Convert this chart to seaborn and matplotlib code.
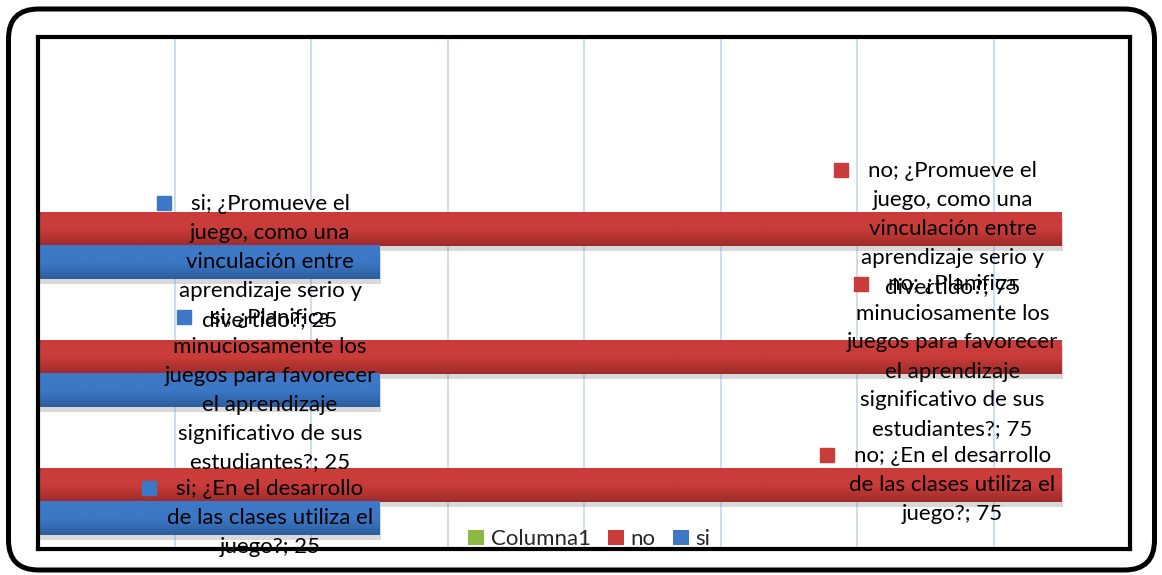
import numpy as np
import pandas as pd
import matplotlib
matplotlib.use("Agg")
import matplotlib.pyplot as plt
import seaborn as sns
from matplotlib.patches import Patch, FancyBboxPatch
from matplotlib.transforms import IdentityTransform
import matplotlib.patheffects as pe
from matplotlib.colors import LinearSegmentedColormap

# ---------------- data ----------------
categories = [
    "",
    "¿Promueve el\njuego, como una\nvinculación entre\naprendizaje serio y\ndivertido?",
    "¿Planifica\nminuciosamente los\njuegos para favorecer\nel aprendizaje\nsignificativo de sus\nestudiantes?",
    "¿En el desarrollo\nde las clases utiliza el\njuego?",
]
series = ["Columna1", "no", "si"]
columna1_values = [np.nan, np.nan, np.nan, np.nan]
no_values = [np.nan, 75, 75, 75]
si_values = [np.nan, 25, 25, 25]
x_ticks = [0, 10, 20, 30, 40, 50, 60, 70, 80]

colors = {"Columna1": "#8DB844", "no": "#C93C3A", "si": "#3C78C6"}
dark = {"Columna1": "#6E9430", "no": "#9E2B2A", "si": "#2D5E9E"}

rows = []
for s, vals in zip(series, [columna1_values, no_values, si_values]):
    for c, v in zip(categories, vals):
        rows.append({"category": c, "series": s, "value": v})
df = pd.DataFrame(rows)

# ---------------- figure ----------------
sns.set_style("white")
plt.rcParams["font.family"] = ["Lato", "DejaVu Sans"]
FS = 16

W, H = 1162, 575
fig = plt.figure(figsize=(W / 100, H / 100), dpi=100)
ax = fig.add_axes([38 / W, (H - 549) / H, (1130 - 38) / W, (549 - 37) / H])

BAR_W = 0.775
sns.barplot(data=df, x="value", y="category", hue="series", order=categories,
            hue_order=series, palette=colors, orient="h", width=BAR_W,
            linewidth=0, legend=False, errorbar=None, ax=ax)

ax.set_xlim(0, 80)
ax.set_ylim(3.5, -0.5)
ax.set_xticks(x_ticks)
ax.set_xticklabels([])
ax.set_yticks([])
ax.tick_params(length=0)
ax.set_xlabel("")
ax.set_ylabel("")
ax.grid(axis="x", color="#C9DBF0", lw=1.3)
ax.set_axisbelow(True)
for sp in ax.spines.values():
    sp.set_visible(True)
    sp.set_color("black")
    sp.set_linewidth(3)

slot = BAR_W / len(series)
grad = np.linspace(0, 1, 64).reshape(-1, 1)
bars = []
for p in list(ax.patches):
    w = p.get_width()
    if not np.isfinite(w) or w <= 0:
        continue
    y0 = p.get_y()
    h = p.get_height()
    yc = y0 + h / 2
    ci = int(round(yc))
    hi = int(round((yc - ci) / slot)) + 1
    s = series[hi]
    p.set_path_effects([pe.SimplePatchShadow(offset=(1, -4), shadow_rgbFace="#777777", alpha=0.28),
                        pe.Normal()])
    cmap = LinearSegmentedColormap.from_list("g", [colors[s], colors[s], dark[s]])
    ax.imshow(grad, extent=[p.get_x(), p.get_x() + w, y0 + h, y0], origin="upper",
              cmap=cmap, aspect="auto", zorder=p.get_zorder() + 0.1, interpolation="bilinear")
    bars.append((ci, s, w, yc))

ax.set_xlim(0, 80)
ax.set_ylim(3.5, -0.5)

# ---------------- data labels ----------------
LS = 29 * 0.72  # line spacing in points
labels = []
for ci, s, v, yc in bars:
    text = f"{s}; {categories[ci]}; {v:g}"
    lines = text.split("\n")
    n = len(lines)
    xl = v - 8
    anns = []
    for k, line in enumerate(lines):
        dy = ((n - 1) / 2 - k) * LS
        a = ax.annotate(line, xy=(xl, yc), xytext=(0, dy), textcoords="offset points",
                        ha="center", va="center", fontsize=FS, color="black", zorder=10,
                        annotation_clip=False)
        anns.append(a)
    labels.append((anns[0], s))

fig.canvas.draw()
renderer = fig.canvas.get_renderer()
inv = ax.transData.inverted()
for a, s in labels:
    bb = a.get_window_extent(renderer)
    mx = bb.x0 - 27
    my = (bb.y0 + bb.y1) / 2 + 1
    xd, yd = inv.transform((mx, my))
    ax.plot([xd], [yd], marker="s", ms=10, color=colors[s], lw=0, zorder=11, clip_on=False)

# ---------------- legend ----------------
handles = [Patch(facecolor=colors[s], edgecolor="none") for s in series]
leg = ax.legend(handles, series, loc="lower center", bbox_to_anchor=(0.505, -0.04), ncol=3,
                frameon=False, handlelength=0.7, handleheight=0.7, handletextpad=0.3,
                columnspacing=0.8, fontsize=FS)
leg.set_zorder(12)

# ---------------- outer rounded frame ----------------
frame = FancyBboxPatch((8.5, 5), 1146, 561, boxstyle="round,pad=0,rounding_size=30",
                       transform=IdentityTransform(), facecolor="none", edgecolor="black",
                       linewidth=3.6)
fig.patches.append(frame)

fig.savefig("out.png", dpi=100)
